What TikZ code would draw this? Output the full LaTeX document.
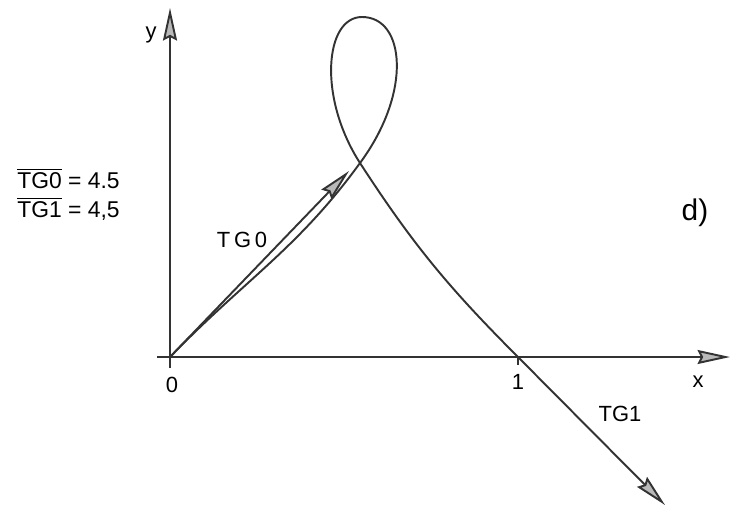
\documentclass[tikz,border=0pt]{standalone}
\usepackage{fontspec}
\setmainfont{Liberation Sans}
\usetikzlibrary{arrows.meta}

\tikzset{
  bigarrow/.style={-{Stealth[length=6.5mm,width=2.8mm,inset=0.7mm,fill=gray!55]}},
  curveline/.style={line width=1.1pt, black!80},
  lab/.style={font=\fontsize{12.5}{15}\selectfont, inner sep=0pt},
}

\begin{document}
\begin{tikzpicture}
\useasboundingbox (-3.4,-2.98) rectangle (11.22,7.14);

% Points of the curve
\coordinate (O) at (0,0);
\coordinate (E) at (6.96,0);
\coordinate (K) at (3.8,3.88); % crossing point
\coordinate (T) at (3.84,6.8);  % top of the loop

% Ends of axes and tangents
\coordinate (xstart) at (-0.26,0);
\coordinate (xend) at (11.2,0);
\coordinate (ystart) at (0,-0.22);
\coordinate (yend) at (0,6.98);
\coordinate (tg0) at (3.58,3.72);
\coordinate (tg1) at (9.9,-2.96);

% Axes
\draw[curveline, bigarrow] (xstart) -- (xend);
\draw[curveline, bigarrow] (ystart) -- (yend);
\draw[curveline] (E) -- ++(0,-0.15);

% The curve with its loop
\draw[curveline] (O) to[out=46,in=234] (K)
    .. controls (4.85,5.3) and (4.7,6.8) .. (T)
    .. controls (3.1,6.8) and (2.95,5.2) .. (K)
    to[out=-57,in=135] (E);

% Tangent vectors
\draw[curveline, bigarrow] (O) -- (tg0);
\draw[curveline, bigarrow] (E) -- (tg1);

% Labels
\node[lab] (ylab) at (-0.38,6.44) {y};
\node[lab] (xlab) at (10.56,-0.5) {x};
\node[lab] (zero) at (0.04,-0.56) {0};
\node[lab] (one) at (6.96,-0.5) {1};
\node[lab] (tg0lab) at (1.44,2.34) {T\,G\,0};
\node[lab] (tg1lab) at (9.0,-1.14) {TG1};
\node[font=\fontsize{17}{20}\selectfont] (dlab) at (10.5,2.88) {d)};

\node[lab, anchor=base west, font=\fontsize{13}{16}\selectfont] (tg0val) at (-3.06,3.38) {$\overline{\hbox{TG0}}$ = 4.5};
\node[lab, anchor=base west, font=\fontsize{13}{16}\selectfont] (tg1val) at (-3.06,2.8) {$\overline{\hbox{TG1}}$ = 4,5};

\end{tikzpicture}
\end{document}
